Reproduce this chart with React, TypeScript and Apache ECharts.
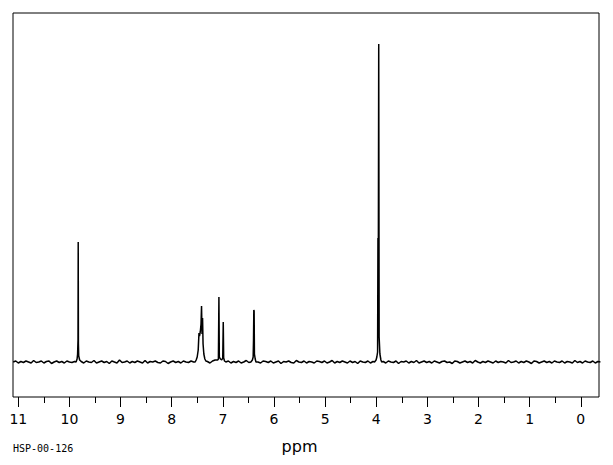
import React, { useEffect, useRef } from "react";
import * as echarts from "echarts";

// Axis ticks (ppm)
const tickMin = 0;
const tickMax = 11;
const viewMin = -0.362;
const viewMax = 11.104;
const axisTitle = "ppm";
const sampleId = "HSP-00-126";

// Noise segments: [start ppm, step], baseline intensities
const NOISE_STEP = 0.05;
const noiseA_start = 11.1;
const noiseA = [0, 1, -1, 0.5, -0.5, 1, 0, -1, 1.5, -0.5, 0, 1, -1, 0.5, 1, -1.5, 0, 1, -0.5, 0.5, -1, 1, 0, -0.5, 0.5];
const noiseB_start = 9.77;
const noiseB = [0.5, -1, 1, 0, -0.5, 1.5, -1, 0, 1, -0.5, 0.5, -1.5, 1, 0, -1, 2, -0.5, 0, 1, -1, 0.5, -0.5, 1, 0, -1, 1.5, -1, 0.5, 0, 1, -0.5, -1, 1, 0.5, -1.5, 0, 1, -0.5, 0.5, -1, 1, 0, -0.5, 1, 0];
const noiseC_start = 7.3;
const noiseC = [0.5, -1, 1, 2];
const noiseD_start = 6.94;
const noiseD = [0, 1, -1, 0.5, -0.5, 1, -1, 0, 1.5, -0.5];
const noiseE_start = 6.31;
const noiseE = [0, -1, 1, 0.5, -0.5, 1, -1, 0, 1, -1.5, 0.5, 0, 1, -0.5, -1, 1.5, 0, -0.5, 1, -1, 0.5, 0, -1, 1, 0.5, -0.5, 1, -1, 0, 1.5, -1, 0.5, -0.5, 1, 0, -1, 1, -0.5, 0.5, -1.5, 1, 0, -0.5, 1, -1, 0.5];
const noiseF_start = 3.86;
const noiseF = [0.5, -1, 1, 0, -0.5, 1, -1.5, 0.5, 0, 1, -1, 0.5, -0.5, 1.5, -1, 0, 1, -0.5, 0.5, -1, 1, 0, -1, 0.5, 1, -0.5, 0, -1.5, 1, 0.5, -1, 0, 1, -0.5, 0.5, -1, 1.5, 0, -1, 0.5, -0.5, 1, 0, -1, 1, -0.5, 0.5, 0, -1, 1.5, -0.5, 0, 1, -1, 0.5, -0.5, 1, 0, -1.5, 1, 0.5, -1, 0, 1, -0.5, 0.5, -1, 1, 0, -0.5, 1, -1, 0.5, 0, -1, 1.5, -0.5, 0.5, -1, 1, 0, -0.5, 1, -1, 0.5, 0];

// Peaks: [ppm, intensity]
const peakAldehyde = [[9.87, 0], [9.85, 3], [9.84, 8], [9.832, 22], [9.828, 120], [9.824, 18], [9.818, 6], [9.8, 2]];
const peakAromatic1 = [[7.54, 0], [7.52, 2], [7.5, 5], [7.48, 12], [7.465, 29], [7.455, 26], [7.44, 30], [7.425, 38], [7.415, 56], [7.405, 28], [7.395, 44], [7.385, 18], [7.37, 8], [7.35, 3], [7.33, 1]];
const peakAromatic2 = [[7.1, 2], [7.085, 3], [7.075, 65], [7.067, 5], [7.045, 3], [7.02, 2], [7.0, 4], [6.99, 40], [6.982, 4], [6.965, 1]];
const peakHydroxyl = [[6.45, 0], [6.42, 2], [6.405, 5], [6.398, 22], [6.392, 52], [6.386, 51], [6.38, 8], [6.365, 3], [6.35, 0]];
const peakMethoxy = [[4.03, 0], [4.0, 2], [3.985, 5], [3.97, 10], [3.963, 124], [3.955, 120], [3.948, 318], [3.94, 25], [3.925, 8], [3.905, 2], [3.89, 0]];

function seg(start: number, values: number[]) {
  return values.map((v, i) => [+(start - i * NOISE_STEP).toFixed(4), v]);
}

export default function App() {
  const ref = useRef<HTMLDivElement>(null);
  useEffect(() => {
    if (!ref.current) return;
    const chart = echarts.init(ref.current, null, { renderer: "svg" });
    const data = [
      ...seg(noiseA_start, noiseA),
      ...peakAldehyde,
      ...seg(noiseB_start, noiseB),
      ...peakAromatic1,
      ...seg(noiseC_start, noiseC),
      ...peakAromatic2,
      ...seg(noiseD_start, noiseD),
      ...peakHydroxyl,
      ...seg(noiseE_start, noiseE),
      ...peakMethoxy,
      ...seg(noiseF_start, noiseF),
    ].sort((a, b) => b[0] - a[0]);

    chart.setOption({
      animation: false,
      backgroundColor: "#ffffff",
      grid: [
        { left: 13, top: 13, width: 586, height: 384, show: true, borderColor: "#000", borderWidth: 1, backgroundColor: "transparent" },
        { left: 18.3, width: 562.5, top: 13, height: 384 },
      ],
      xAxis: [
        { gridIndex: 0, type: "value", min: viewMin, max: viewMax, inverse: true, show: false },
        {
          gridIndex: 1,
          type: "value",
          min: tickMin,
          max: tickMax,
          interval: 1,
          inverse: true,
          axisLine: { show: false },
          axisTick: { show: true, length: 10, lineStyle: { color: "#000", width: 1 } },
          minorTick: { show: true, splitNumber: 2, length: 6, lineStyle: { color: "#000", width: 1 } },
          splitLine: { show: false },
          minorSplitLine: { show: false },
          axisLabel: { margin: 15, color: "#000", fontSize: 14, fontFamily: "DejaVu Sans" },
          name: axisTitle,
          nameLocation: "middle",
          nameGap: 41,
          nameTextStyle: { color: "#000", fontSize: 16, fontFamily: "DejaVu Sans" },
        },
      ],
      yAxis: [
        { gridIndex: 0, type: "value", min: -35, max: 349, show: false },
        { gridIndex: 1, type: "value", min: 0, max: 1, show: false },
      ],
      series: [
        {
          type: "line",
          xAxisIndex: 0,
          yAxisIndex: 0,
          data,
          showSymbol: false,
          silent: true,
          lineStyle: { color: "#000", width: 1.5 },
        },
      ],
      graphic: [
        {
          type: "text",
          left: 13,
          top: 443,
          style: { text: sampleId, fill: "#000", font: '10px "DejaVu Sans Mono"' },
        },
      ],
    });
    return () => chart.dispose();
  }, []);
  return <div ref={ref} style={{ position: "absolute", left: 0, top: 0, width: 613, height: 465 }} />;
}
